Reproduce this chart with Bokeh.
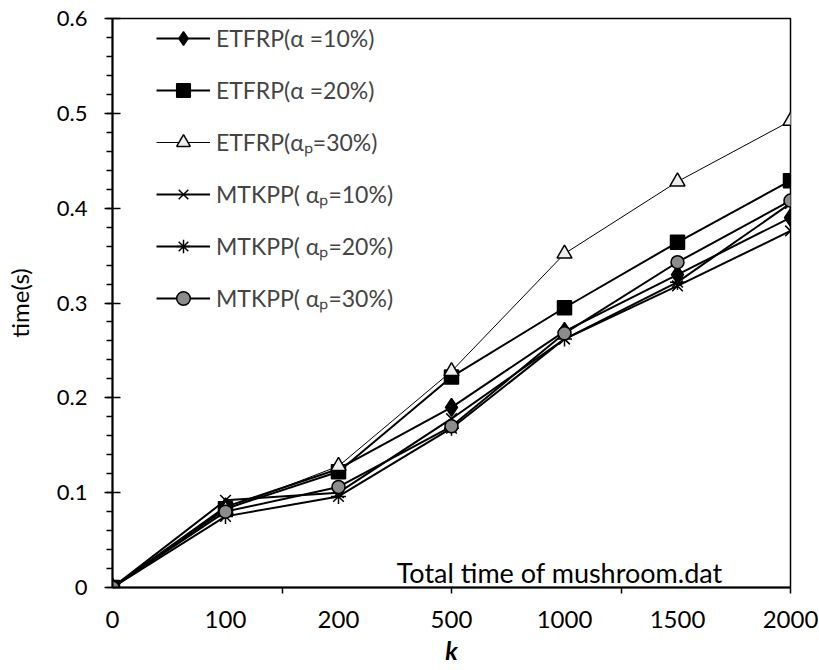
from bokeh.plotting import figure
from bokeh.models import FixedTicker, Legend, LegendItem, Label, Range1d
from bokeh.embed import file_html
from bokeh.resources import INLINE

k_labels = ["0", "100", "200", "500", "1000", "1500", "2000"]
etfrp10 = [0, 0.085, 0.125, 0.190, 0.270, 0.330, 0.390]
etfrp20 = [0, 0.083, 0.122, 0.222, 0.295, 0.364, 0.429]
etfrp30 = [0, 0.082, 0.128, 0.228, 0.352, 0.428, 0.492]
mtkpp10 = [0, 0.092, 0.100, 0.178, 0.262, 0.318, 0.376]
mtkpp20 = [0, 0.075, 0.096, 0.168, 0.262, 0.322, 0.405]
mtkpp30 = [0, 0.080, 0.106, 0.170, 0.268, 0.343, 0.408]
y_ticks = [0, 0.1, 0.2, 0.3, 0.4, 0.5, 0.6]
y_tick_labels = ["0", "0.1", "0.2", "0.3", "0.4", "0.5", "0.6"]
legend_labels = ["ETFRP(α =10%)", "ETFRP(α =20%)", "ETFRP(αₚ=30%)",
                 "MTKPP( αₚ=10%)", "MTKPP( αₚ=20%)", "MTKPP( αₚ=30%)"]

FONT = "Lato"
xs = list(range(len(k_labels)))

p = figure(width=819, height=670, output_backend="svg", toolbar_location=None,
           x_range=Range1d(0, 6), y_range=Range1d(0, 0.6),
           min_border_left=112, min_border_right=29, min_border_top=18, min_border_bottom=83)
p.background_fill_color = "white"
p.border_fill_color = "white"
p.outline_line_color = "black"
p.outline_line_width = 1.5
p.grid.visible = False

# x axis
xa = p.xaxis[0]
xa.ticker = FixedTicker(ticks=xs, minor_ticks=[1.5, 3, 4.5, 6])
xa.major_label_overrides = {i: lab for i, lab in enumerate(k_labels)}
xa.major_tick_in = 0
xa.major_tick_out = 0
xa.minor_tick_in = 0
xa.minor_tick_out = 6
xa.minor_tick_line_color = "black"
xa.minor_tick_line_width = 1.5
xa.axis_line_width = 2
xa.major_label_standoff = 17
xa.major_label_text_font = FONT
xa.major_label_text_font_size = "24px"
xa.major_label_text_color = "black"
xa.axis_label = "k"
xa.axis_label_text_font = FONT
xa.axis_label_text_font_style = "bold italic"
xa.axis_label_text_font_size = "25px"
xa.axis_label_text_color = "black"
xa.axis_label_standoff = 4

# y axis
ya = p.yaxis[0]
ya.ticker = FixedTicker(ticks=y_ticks, minor_ticks=[i * 0.02 for i in range(31)])
ya.major_label_overrides = {t: lab for t, lab in zip(y_ticks, y_tick_labels)}
ya.major_tick_in = 8
ya.major_tick_out = 8
ya.minor_tick_in = 0
ya.minor_tick_out = 6
ya.major_tick_line_width = 1.5
ya.minor_tick_line_width = 1.5
ya.axis_line_width = 2
ya.major_label_standoff = 17
ya.major_label_text_font = FONT
ya.major_label_text_font_size = "22px"
ya.major_label_text_color = "black"
ya.axis_label = "time(s)"
ya.axis_label_text_font = FONT
ya.axis_label_text_font_style = "normal"
ya.axis_label_text_font_size = "24px"
ya.axis_label_text_color = "black"
ya.axis_label_standoff = 20

series = [
    (etfrp10, "diamond", 18, "black", 2),
    (etfrp20, "square", 14, "black", 2),
    (etfrp30, "triangle", 15, "#eeeeee", 1),
    (mtkpp10, "x", 15, None, 2),
    (mtkpp20, "asterisk", 15, None, 2),
    (mtkpp30, "circle", 13, "#8c8c8c", 2),
]

items = []
for (ys, marker, size, fill, lw), lab in zip(series, legend_labels):
    lr = p.line(xs, ys, line_color="black", line_width=lw)
    sr = p.scatter(xs, ys, marker=marker, size=size, line_color="black", line_width=1.5,
                   fill_color=fill if fill else "black")
    items.append(LegendItem(label=lab, renderers=[lr, sr]))

legend = Legend(items=items, location=(44, 272), padding=0, margin=0,
                glyph_width=54, glyph_height=34, spacing=18, label_standoff=6,
                label_text_font=FONT, label_text_font_size="23px",
                background_fill_alpha=0, border_line_color=None)
p.add_layout(legend)

p.add_layout(Label(x=5.4, y=0.016, text="Total time of mushroom.dat", text_align="right",
                   text_baseline="alphabetic", text_font=FONT, text_font_size="27px",
                   text_color="black"))

open("out.html", "w").write(file_html(p, INLINE))
